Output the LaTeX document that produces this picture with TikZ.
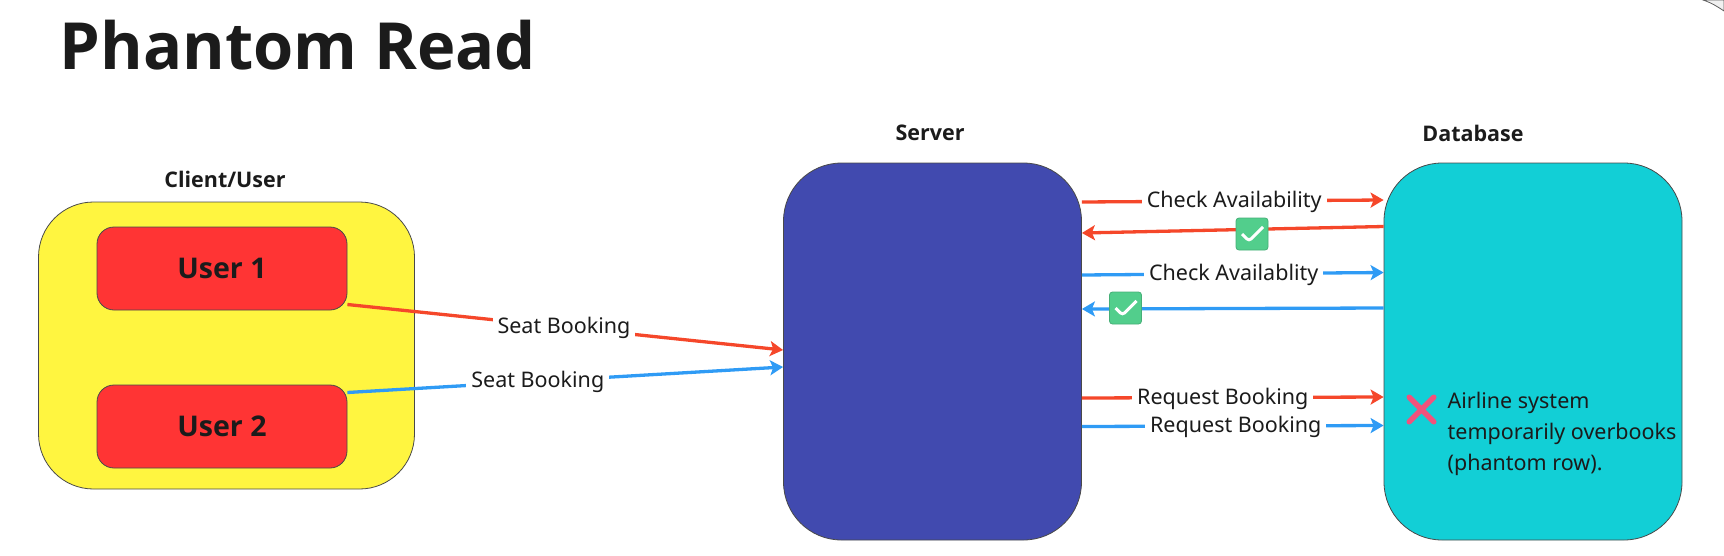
\documentclass[tikz,border=0pt]{standalone}
\usepackage{fontspec}
\setmainfont{Noto Sans}
\newfontfamily\headfont{Open Sans}
\usepackage{xcolor}
\usetikzlibrary{arrows.meta,shapes,shapes.misc,positioning}

\definecolor{inkblack}{HTML}{1B1B1B}
\definecolor{clientyellow}{HTML}{FFF540}
\definecolor{userred}{HTML}{FF3434}
\definecolor{serverblue}{HTML}{414AAF}
\definecolor{dbcyan}{HTML}{12CFD6}
\definecolor{linered}{HTML}{F5472A}
\definecolor{lineblue}{HTML}{2F9BF5}
\definecolor{okgreen}{HTML}{52CE8C}
\definecolor{crosspink}{HTML}{F2527C}

\tikzset{
  bigbox/.style={draw=inkblack!80, line width=0.8pt, rounded corners=58pt, minimum width=298pt, minimum height=377pt, inner sep=0pt},
  userbox/.style={draw=inkblack!80, line width=0.8pt, fill=userred, rounded corners=17pt, minimum width=250pt, minimum height=83pt, text=inkblack, font=\headfont\fontsize{28.5}{32}\selectfont\bfseries},
  caption/.style={text=inkblack, font=\headfont\fontsize{21.5}{25}\selectfont\bfseries},
  edgelabel/.style={fill=white, text=inkblack, inner sep=5pt, yshift=-1pt, font=\fontsize{21.5}{25}\selectfont},
  okbox/.style={draw=okgreen!85!black, line width=0.8pt, fill=okgreen, rounded corners=3pt, minimum size=32pt, inner sep=0pt, path picture={
    \draw[-, white, line width=3pt] ([shift={(-10pt,0pt)}]path picture bounding box.center) -- ([shift={(-3pt,-7pt)}]path picture bounding box.center) -- ([shift={(11pt,7pt)}]path picture bounding box.center);}},
  redline/.style={draw=linered},
  blueline/.style={draw=lineblue}
}

\begin{document}
\begin{tikzpicture}[x=1pt, y=-1pt, ->, >={Stealth[length=13pt,width=15pt,inset=3pt]}, line width=3.3pt, inner sep=2pt]
\useasboundingbox (0,0) rectangle (1724,555);

\node[text=inkblack, anchor=base west, inner sep=0pt, font=\headfont\fontsize{65}{70}\selectfont\bfseries] (title) at (58,69) {Phantom Read};

% boxes
\node[bigbox, fill=clientyellow, rounded corners=55pt, minimum width=376pt, minimum height=287pt] (client) at (226.5,345.5) {};
\node[userbox] (user1) at (222,268.5) {User 1};
\node[userbox] (user2) at (222,426.5) {User 2};
\node[bigbox, fill=serverblue] (server) at (932.5,351.5) {};
\node[bigbox, fill=dbcyan] (db) at (1533,351.5) {};

\node[caption] (clientcap) at (225,179) {Client/User};
\node[caption] (servercap) at (930,133) {Server};
\node[caption] (dbcap) at (1473,133) {Database};

% connectors
\path
([yshift=-36pt]user1.east) edge [redline] node[edgelabel, pos=0.497] {Seat Booking} ([yshift=1.5pt]server.west)
([yshift=34pt]user2.east) edge [blueline] node[edgelabel, pos=0.437] {Seat Booking} ([yshift=-15.5pt]server.west)

([yshift=149.5pt]server.east) edge [redline] node[edgelabel, pos=0.505] {Check Availability} ([yshift=151.5pt]db.west)
([yshift=125pt]db.west) edge [redline] ([yshift=118.5pt]server.east)
([yshift=76.5pt]server.east) edge [blueline] node[edgelabel, pos=0.503] {Check Availablity} ([yshift=79pt]db.west)
([yshift=43.5pt]db.west) edge [blueline] ([yshift=42.5pt]server.east)

([yshift=-46.5pt]server.east) edge [redline] node[edgelabel, pos=0.467] {Request Booking} ([yshift=-45.5pt]db.west)
([yshift=-75pt]server.east) edge [blueline] node[edgelabel, pos=0.51] {Request Booking} ([yshift=-74pt]db.west);

% marks on the return lines
\node[okbox] (ok1) at (1252,234) {};
\node[okbox] (ok2) at (1125.5,308) {};

\node[draw=crosspink, cross out, line cap=round, line width=5.5pt, minimum size=19pt, inner sep=0pt] (fail) at (1421.5,409.5) {};
\node[anchor=north west, align=left, text=inkblack, inner sep=0pt, font=\fontsize{21.5}{31}\selectfont] (failtext) at (1446,391) {Airline system\\temporarily overbooks\\(phantom row).};

% corner of the next frame
\path[-, draw=inkblack!70, line width=0.8pt, fill=black!6] (1703,0) .. controls (1712,3) and (1718,7) .. (1724,11) -- (1724,0) -- cycle;
\end{tikzpicture}
\end{document}
